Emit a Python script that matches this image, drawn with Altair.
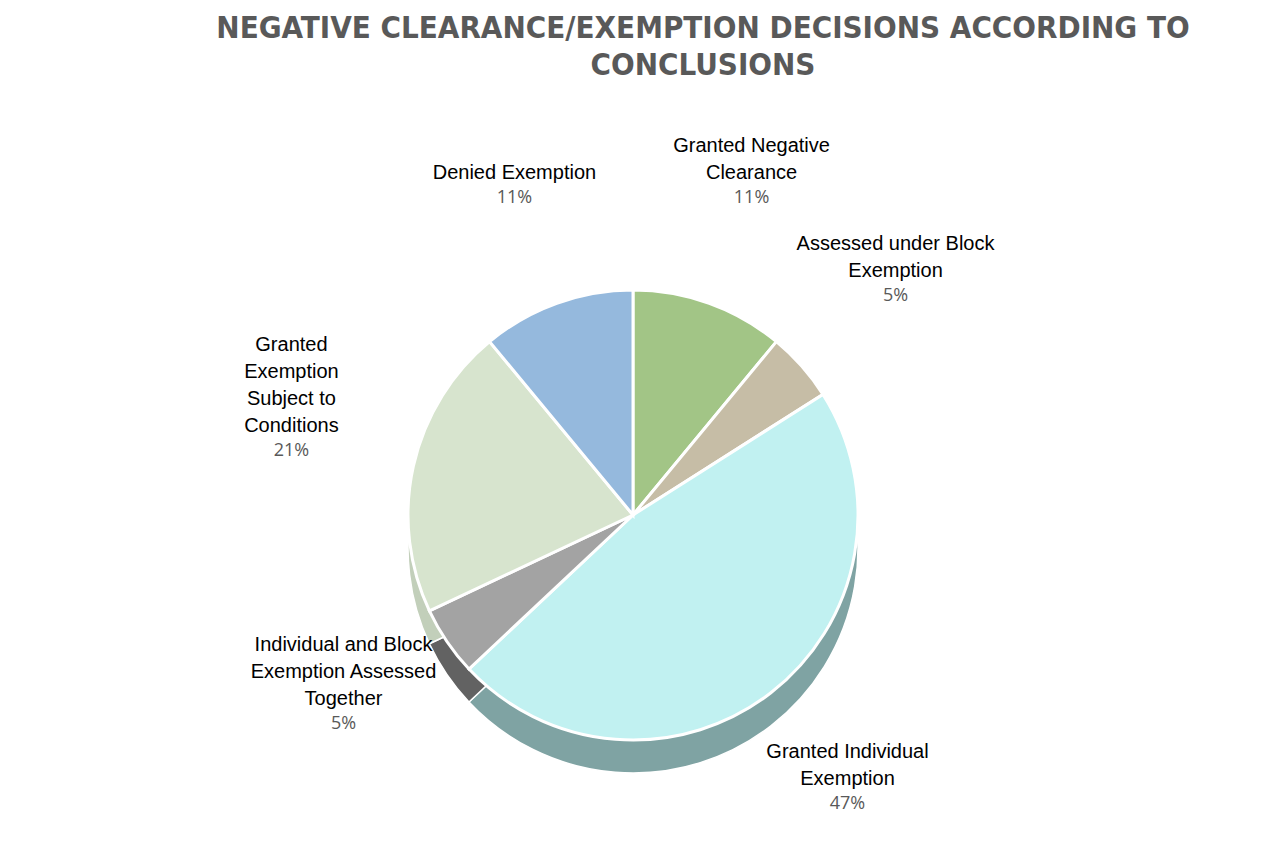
import altair as alt
import pandas as pd

categories = [
    "Granted Negative Clearance",
    "Assessed under Block Exemption",
    "Granted Individual Exemption",
    "Individual and Block Exemption Assessed Together",
    "Granted Exemption Subject to Conditions",
    "Denied Exemption",
]
label_lines = [
    ["Granted Negative", "Clearance"],
    ["Assessed under Block", "Exemption"],
    ["Granted Individual", "Exemption"],
    ["Individual and Block", "Exemption Assessed", "Together"],
    ["Granted", "Exemption", "Subject to", "Conditions"],
    ["Denied Exemption"],
]
shares = [11, 5, 47, 5, 21, 11]
top_colors = ["#A2C586", "#C6BDA6", "#C1F1F1", "#A3A3A3", "#D7E4CE", "#95B9DD"]
side_colors = ["#4A5F38", "#7A7262", "#7FA3A3", "#626262", "#C2CFBA", "#4A6A8C"]

MAX_LINES = 4
df = pd.DataFrame({
    "category": categories,
    "share": shares,
    "idx": list(range(len(categories))),
})
# line_k = k-th line counted from the bottom of each label ("" if none)
for k in range(MAX_LINES):
    df[f"line{k}"] = [ls[len(ls) - 1 - k] if k < len(ls) else "" for ls in label_lines]
df["pct"] = (df["share"] / df["share"].sum() * 100).round().astype(int).astype(str) + "%"

R = 225
LR = R + 125
LH = 27

base = alt.Chart(df).encode(
    theta=alt.Theta("share:Q", stack=True),
    order=alt.Order("idx:Q"),
)

side_layers = []
for d in range(3, 34, 3):
    side_layers.append(
        base.mark_arc(outerRadius=R, yOffset=d, stroke="white", strokeWidth=1.5).encode(
            color=alt.Color("category:N", sort=categories,
                            scale=alt.Scale(domain=categories, range=side_colors), legend=None)
        )
    )

top = base.mark_arc(outerRadius=R, stroke="white", strokeWidth=3).encode(
    color=alt.Color("category:N", sort=categories,
                    scale=alt.Scale(domain=categories, range=top_colors), legend=None)
)

name_layers = []
for k in range(MAX_LINES):
    name_layers.append(
        base.mark_text(radius=LR, baseline="bottom", align="center", dy=-3 - k * LH,
                       font="Liberation Sans", fontSize=20, color="#000000").encode(
            text=f"line{k}:N")
    )

pcts = base.mark_text(radius=LR, baseline="top", align="center", dy=3,
                      font="Open Sans", fontSize=18, color="#595959").encode(text="pct:N")

TITLE_FONT = "DejaVu Sans Condensed, Open Sans, sans-serif"
sides = alt.layer(*side_layers)
chart = alt.layer(sides, top, *name_layers, pcts).resolve_scale(color="independent").properties(
    width=1250,
    height=750,
    padding={"left": 0, "right": 0, "top": 4, "bottom": 0},
    title=alt.Title(
        "NEGATIVE CLEARANCE/EXEMPTION DECISIONS ACCORDING TO",
        subtitle="CONCLUSIONS",
        font=TITLE_FONT,
        fontSize=31,
        fontWeight="bold",
        color="#595959",
        subtitleFont=TITLE_FONT,
        subtitleFontSize=31,
        subtitleFontWeight="bold",
        subtitleColor="#595959",
        subtitlePadding=6,
        anchor="middle",
        dx=70,
        offset=0,
    ),
).configure_view(stroke=None).configure(background="white")

chart.save("out.html", embed_options={"renderer": "svg", "actions": False})
